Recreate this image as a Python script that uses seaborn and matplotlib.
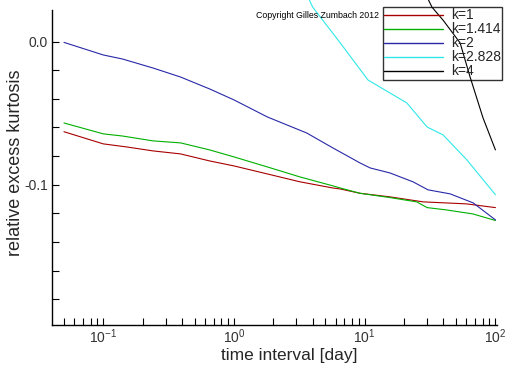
import matplotlib
matplotlib.use("Agg")
import matplotlib.pyplot as plt
import seaborn as sns
import pandas as pd
from matplotlib.lines import Line2D

# values
red_x = [0.05, 0.1, 0.15, 0.24, 0.39, 0.65, 1.0, 1.8, 3.2, 5.7, 6.5, 9.2, 15.6, 28, 60, 100]
red_y = [-0.063, -0.0715, -0.0736, -0.0764, -0.0785, -0.0834, -0.0869, -0.0925, -0.098,
         -0.1023, -0.103, -0.106, -0.1085, -0.112, -0.1134, -0.116]

green_x = [0.05, 0.1, 0.14, 0.24, 0.39, 0.65, 1.0, 1.8, 3.2, 5.7, 6.5, 9.2, 15.6, 25, 30, 42, 67, 100]
green_y = [-0.0569, -0.0645, -0.066, -0.0694, -0.0708, -0.0757, -0.0806, -0.0876, -0.0946,
           -0.1008, -0.1023, -0.106, -0.109, -0.112, -0.116, -0.1176, -0.1204, -0.125]

blue_x = [0.05, 0.1, 0.14, 0.24, 0.39, 0.55, 0.65, 1.0, 1.8, 3.6, 5.7, 9.2, 11, 15.6, 23.4, 30.5, 45, 67.5, 100]
blue_y = [-0.0006, -0.0094, -0.0122, -0.0185, -0.0248, -0.0304, -0.0331, -0.0408, -0.0527,
          -0.0639, -0.0743, -0.0848, -0.0883, -0.0918, -0.098, -0.1036, -0.1064, -0.1127, -0.1246]

cyan_x = [3.6, 4.0, 6.5, 10.6, 21, 30, 39.7, 60.5, 100]
cyan_y = [0.033, 0.024, -0.001, -0.0269, -0.0429, -0.0597, -0.0652, -0.0827, -0.107]

black_x = [30, 32.7, 39.7, 53.7, 64, 80.4, 100]
black_y = [0.031, 0.024, 0.015, -0.001, -0.0248, -0.0534, -0.0757]

labels = ["k=1", "k=1.414", "k=2", "k=2.828", "k=4"]
colors = ["#a80000", "#00b000", "#2828a8", "#30e8e8", "#000000"]

series = [(red_x, red_y), (green_x, green_y), (blue_x, blue_y), (cyan_x, cyan_y), (black_x, black_y)]
frames = []
for lab, (xs, ys) in zip(labels, series):
    frames.append(pd.DataFrame({"t": xs, "kurt": ys, "k": lab}))
df = pd.concat(frames, ignore_index=True)

sns.set_style("ticks")
plt.rcParams["font.family"] = ["Liberation Sans", "DejaVu Sans"]
plt.rcParams["axes.unicode_minus"] = False

fig = plt.figure(figsize=(5.12, 3.66), dpi=100)
ax = fig.add_axes([52 / 512, 41 / 366, 445 / 512, 325 / 366])

palette = dict(zip(labels, colors))
sns.lineplot(data=df, x="t", y="kurt", hue="k", palette=palette, estimator=None,
             sort=False, linewidth=0.8, legend=False, ax=ax)

ax.set_xscale("log")
ax.set_xlim(0.0405, 102.8)
ax.set_ylim(-0.198, 0.029)

for s in ["top", "right"]:
    ax.spines[s].set_visible(False)
ax.spines["left"].set_bounds(-0.198, 0.022)
for s in ["left", "bottom"]:
    ax.spines[s].set_linewidth(1.0)
    ax.spines[s].set_color("black")

ax.set_yticks([0.0, -0.1])
ax.set_yticklabels(["0.0", "-0.1"])
ax.set_yticks([-0.02 * i for i in range(1, 10) if i != 5], minor=True)
ax.set_xticks([0.1, 1, 10, 100])
ax.set_xticklabels([r"$\mathregular{10^{-1}}$", r"$\mathregular{10^{0}}$",
                    r"$\mathregular{10^{1}}$", r"$\mathregular{10^{2}}$"])
ax.tick_params(axis="both", which="major", direction="in", length=5, width=0.8,
               labelsize=10, colors="black")
ax.tick_params(axis="x", which="major", pad=2)
ax.tick_params(axis="y", which="major", pad=3)
ax.tick_params(axis="both", which="minor", direction="in", length=5, width=0.8, colors="black")
for lbl in ax.get_xticklabels() + ax.get_yticklabels():
    lbl.set_color("#333333")

ax.set_xlabel("time interval [day]", fontsize=12.5)
ax.xaxis.set_label_coords(0.533, -0.072)
ax.set_ylabel("relative excess kurtosis", fontsize=13)
ax.yaxis.set_label_coords(-0.062, 0.5)

fig.text(256 / 512, 1 - 16 / 366, "Copyright Gilles Zumbach 2012", fontsize=6.3,
         ha="left", va="center", color="black")

handles = [Line2D([0], [0], color=c, lw=1.0) for c in colors]
leg = ax.legend(handles, labels, loc="upper left", bbox_to_anchor=(383 / 512, 1 - 7 / 366),
                bbox_transform=fig.transFigure, fontsize=10, handlelength=4.2,
                handletextpad=0.6, labelspacing=0.0, borderpad=0.1, borderaxespad=0,
                frameon=True, fancybox=False)
leg.get_frame().set_edgecolor("black")
leg.get_frame().set_facecolor("none")
leg.get_frame().set_linewidth(1.0)

fig.savefig("out.png", dpi=100)
